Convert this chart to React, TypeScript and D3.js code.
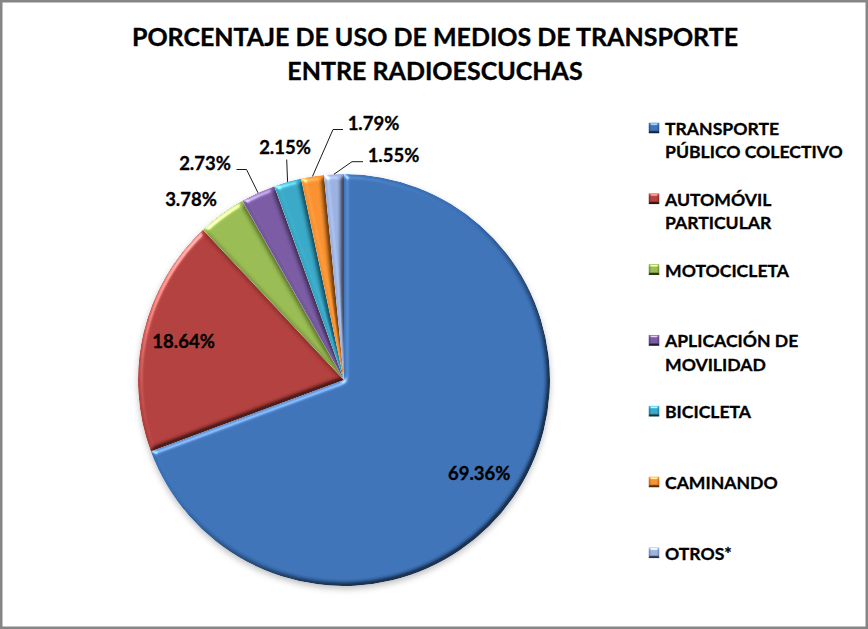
import { useEffect } from 'react';
import * as d3 from 'd3';

const W = 868;
const H = 629;

const titleLines = ['PORCENTAJE DE USO DE MEDIOS DE TRANSPORTE', 'ENTRE RADIOESCUCHAS'];
const legendLines = [
  ['TRANSPORTE', 'PÚBLICO COLECTIVO'],
  ['AUTOMÓVIL', 'PARTICULAR'],
  ['MOTOCICLETA'],
  ['APLICACIÓN DE', 'MOVILIDAD'],
  ['BICICLETA'],
  ['CAMINANDO'],
  ['OTROS*'],
];
const values = [69.36, 18.64, 3.78, 2.73, 2.15, 1.79, 1.55];
const colors = ['#3a6fb4', '#ae3c39', '#94b74e', '#75579e', '#35a4c3', '#f38c2b', '#96addb'];

// label placement: inside labels use the centroid, outside ones are placed by hand (center x, baseline y)
const outsideLabels: Record<number, [number, number]> = {
  2: [191, 206],
  3: [205, 170],
  4: [285, 154],
  5: [373.5, 130],
  6: [393.5, 162],
};
// leader lines: points on the label side, the last point is the slice edge
const leaders: Record<number, [number, number][]> = {
  3: [[236.5, 169.5], [246.5, 169.5]],
  4: [[286.7, 159.5]],
  5: [[343, 129.5], [333, 129.5]],
  6: [[363, 161.7], [352, 161.7]],
};

const CX = 344;
const CY = 380;
const R = 206;
const FONT = 'Lato, "Open Sans", sans-serif';

export default function App() {
  useEffect(() => {
    document.body.style.margin = '0';
  }, []);

  const pie = d3.pie<number>().sort(null).value((d) => d)(values);
  const arc = d3.arc<d3.PieArcDatum<number>>().innerRadius(0).outerRadius(R);
  const labelArc = d3.arc<d3.PieArcDatum<number>>().innerRadius(R * 0.8).outerRadius(R * 0.8);
  const fmt = (v: number) => v.toFixed(2) + '%';

  const edgePoint = (a: d3.PieArcDatum<number>): [number, number] => {
    const m = (a.startAngle + a.endAngle) / 2;
    return [CX + Math.sin(m) * R, CY - Math.cos(m) * R];
  };

  return (
    <svg width={W} height={H} style={{ position: 'absolute', left: 0, top: 0, background: '#fff' }}>
      <defs>
        <filter id="bevel" x="-10%" y="-10%" width="120%" height="120%" colorInterpolationFilters="sRGB">
          <feGaussianBlur in="SourceAlpha" stdDeviation="2.5" result="blur" />
          <feDiffuseLighting in="blur" surfaceScale="3" diffuseConstant="2" lightingColor="#ffffff" result="diff">
            <feDistantLight azimuth="225" elevation="30" />
          </feDiffuseLighting>
          <feSpecularLighting in="blur" surfaceScale="3" specularConstant="0.9" specularExponent="22" lightingColor="#ffffff" result="spec">
            <feDistantLight azimuth="225" elevation="30" />
          </feSpecularLighting>
          <feComposite in="spec" in2="SourceAlpha" operator="in" result="specIn" />
          <feComposite in="SourceGraphic" in2="diff" operator="arithmetic" k1="0.55" k2="0.45" k3="0" k4="0" result="shaded" />
          <feComposite in="shaded" in2="specIn" operator="arithmetic" k1="0" k2="1" k3="0.55" k4="0" result="lit" />
          <feComposite in="lit" in2="SourceAlpha" operator="in" />
        </filter>
        <filter id="bevelSmall" x="-20%" y="-20%" width="140%" height="140%" colorInterpolationFilters="sRGB">
          <feGaussianBlur in="SourceAlpha" stdDeviation="1" result="blur" />
          <feDiffuseLighting in="blur" surfaceScale="2" diffuseConstant="2" lightingColor="#ffffff" result="diff">
            <feDistantLight azimuth="270" elevation="30" />
          </feDiffuseLighting>
          <feSpecularLighting in="blur" surfaceScale="2" specularConstant="0.8" specularExponent="20" lightingColor="#ffffff" result="spec">
            <feDistantLight azimuth="270" elevation="30" />
          </feSpecularLighting>
          <feComposite in="spec" in2="SourceAlpha" operator="in" result="specIn" />
          <feComposite in="SourceGraphic" in2="diff" operator="arithmetic" k1="0.7" k2="0.3" result="shaded" />
          <feComposite in="shaded" in2="specIn" operator="arithmetic" k2="1" k3="0.6" result="lit" />
          <feComposite in="lit" in2="SourceAlpha" operator="in" />
        </filter>
        <filter id="shadow" x="-10%" y="-10%" width="120%" height="125%">
          <feDropShadow dx="0" dy="3" stdDeviation="3" floodColor="#000" floodOpacity="0.25" />
        </filter>
      </defs>

      <rect x={1.25} y={1.25} width={W - 2.5} height={H - 2.5} fill="#fff" stroke="#868686" strokeWidth={2.5} />

      {titleLines.map((t, i) => (
        <text
          key={t}
          x={435}
          y={45.7 + i * 34.3}
          textAnchor="middle"
          fontFamily={FONT}
          fontWeight={700}
          fontSize={25}
          stroke="#000"
          strokeWidth={0.35}
          fill="#000"
        >
          {t}
        </text>
      ))}

      <g filter="url(#shadow)">
        <g transform={`translate(${CX},${CY})`}>
          {pie.map((a, i) => (
            <path key={i} d={arc(a) || ''} fill={colors[i]} filter="url(#bevel)" />
          ))}
        </g>
      </g>

      {pie.map((a, i) => {
        if (!leaders[i]) return null;
        const pts = [...leaders[i], edgePoint(a)];
        return (
          <path
            key={'l' + i}
            d={d3.line()(pts) || ''}
            fill="none"
            stroke="#000"
            strokeWidth={0.9}
          />
        );
      })}

      {pie.map((a, i) => {
        let x: number;
        let y: number;
        if (outsideLabels[i]) {
          [x, y] = outsideLabels[i];
        } else {
          const c = labelArc.centroid(a);
          x = CX + c[0];
          y = CY + c[1] + 6;
        }
        return (
          <text
            key={'t' + i}
            x={x}
            y={y}
            textAnchor="middle"
            fontFamily={FONT}
            fontWeight={700}
            fontSize={18.5}
            stroke="#000"
            strokeWidth={0.3}
            fill="#000"
          >
            {fmt(values[i])}
          </text>
        );
      })}

      {legendLines.map((lines, i) => {
        const base = 135 + i * 70.8;
        return (
          <g key={'lg' + i}>
            <rect x={648.5} y={base - 12.5} width={11} height={11} fill={colors[i]} filter="url(#bevelSmall)" />
            {lines.map((ln, j) => (
              <text
                key={ln}
                x={665}
                y={base + j * 23.3}
                fontFamily={FONT}
                fontWeight={700}
                fontSize={17.6}
                stroke="#000"
                strokeWidth={0.3}
                fill="#000"
              >
                {ln}
              </text>
            ))}
          </g>
        );
      })}
    </svg>
  );
}
